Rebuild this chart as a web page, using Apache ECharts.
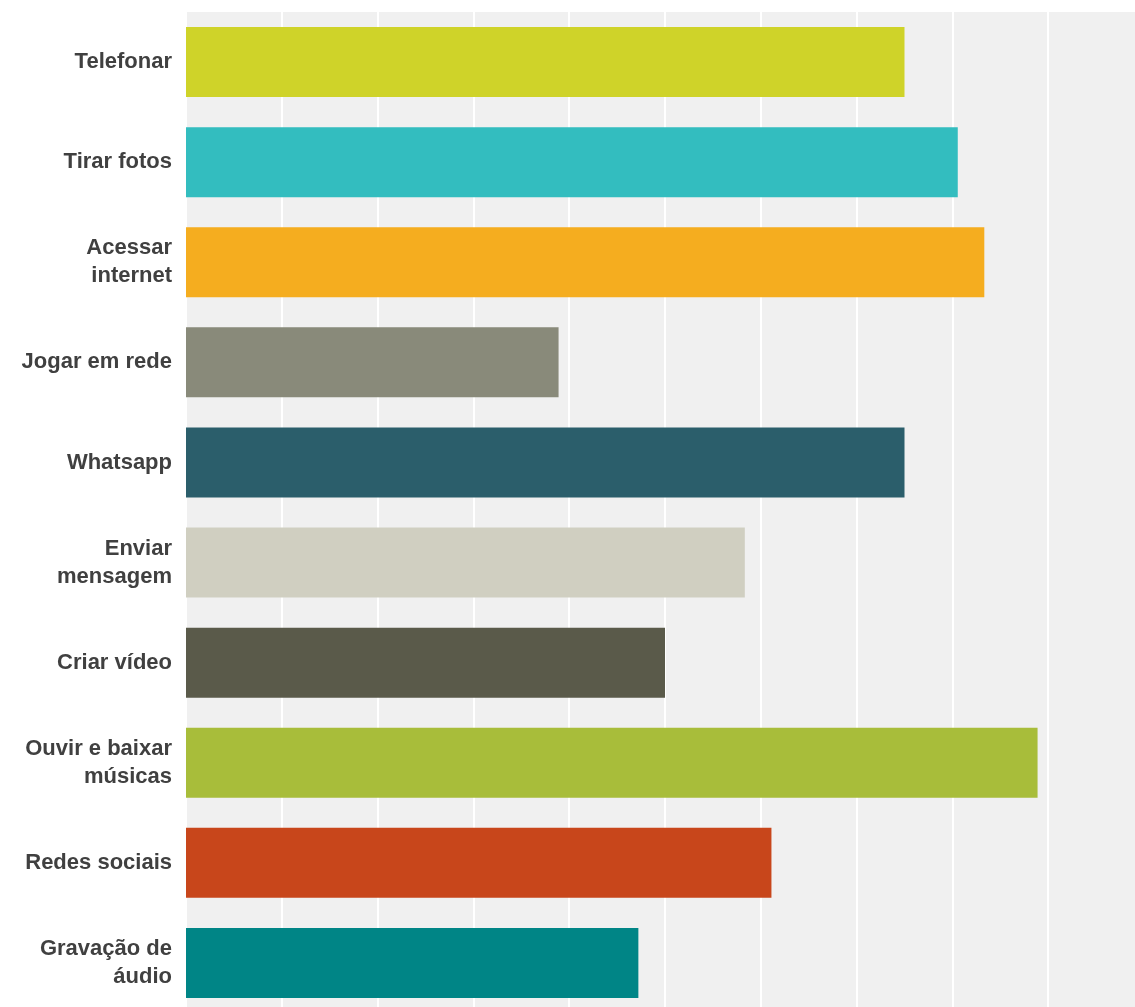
<!DOCTYPE html>
<html>
<head>
<meta charset="utf-8">
<script src="https://cdn.jsdelivr.net/npm/echarts@6/dist/echarts.min.js"></script>
<style>
  html, body { margin: 0; padding: 0; background: #fff; }
  #chart { width: 1135px; height: 1007px; }
</style>
</head>
<body>
<div id="chart"></div>
<script>
// categorias (de cima para baixo)
const categories = [
  'Telefonar',
  'Tirar fotos',
  'Acessar\ninternet',
  'Jogar em rede',
  'Whatsapp',
  'Enviar\nmensagem',
  'Criar vídeo',
  'Ouvir e baixar\nmúsicas',
  'Redes sociais',
  'Gravação de\náudio'
]
// percentuais
const values = [75.0, 80.56, 83.33, 38.89, 75.0, 58.33, 50.0, 88.89, 61.11, 47.22]
const barColors = ['#cfd329', '#33bdbf', '#f5ad1f', '#898a7a', '#2b5e6b', '#d0cfc1', '#5a5a4a', '#a8bd3a', '#c8461b', '#008586']
const xTicks = [0, 10, 20, 30, 40, 50, 60, 70, 80, 90, 100]

const chart = echarts.init(document.getElementById('chart'))
chart.setOption({
  animation: false,
  grid: {
    show: true,
    left: 186,
    top: 12,
    width: 958,
    height: 1001,
    outerBoundsMode: 'none',
    containLabel: false,
    backgroundColor: '#f0f0f0',
    borderWidth: 0
  },
  xAxis: {
    type: 'value',
    min: xTicks[0],
    max: xTicks[xTicks.length - 1],
    interval: xTicks[1] - xTicks[0],
    axisLine: { show: false },
    axisTick: { show: false },
    axisLabel: { show: false },
    splitLine: {
      lineStyle: { color: '#ffffff', width: 2 }
    }
  },
  yAxis: {
    type: 'category',
    inverse: true,
    data: categories,
    axisLine: { show: false },
    axisTick: { show: false },
    axisLabel: {
      margin: 14,
      color: '#404040',
      fontFamily: 'Liberation Sans, Arial, sans-serif',
      fontWeight: 'bold',
      fontSize: 22,
      lineHeight: 28,
      align: 'right'
    }
  },
  series: [{
    type: 'bar',
    barWidth: 70,
    data: values.map((v, i) => ({ value: v, itemStyle: { color: barColors[i] } }))
  }]
})
</script>
</body>
</html>
